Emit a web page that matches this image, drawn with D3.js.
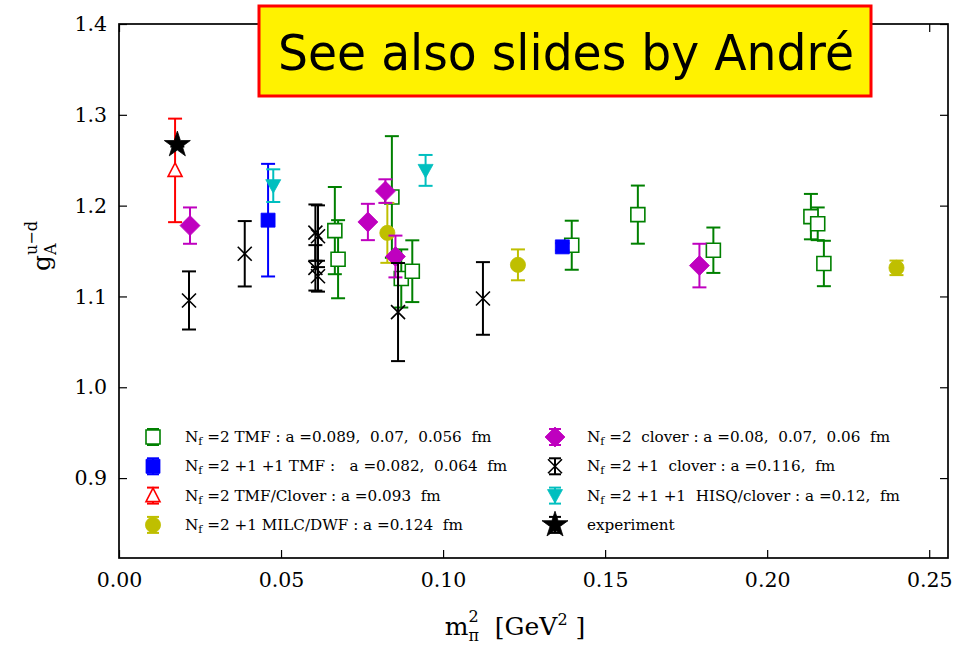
<!DOCTYPE html>
<html>
<head>
<meta charset="utf-8">
<script src="https://cdn.jsdelivr.net/npm/d3@7"></script>
<style>
body{margin:0;background:#fff;}
svg text{white-space:pre;}
</style>
</head>
<body>
<div id="chart"></div>
<script>
// data: x = m_pi^2 [GeV^2], y = g_A, e = error
var tmfX = [0.0666, 0.0676, 0.0842, 0.0871, 0.0905, 0.1397, 0.1601, 0.1834, 0.2135, 0.2156, 0.2175];
var tmfY = [1.1725, 1.141, 1.2095, 1.1198, 1.1278, 1.1564, 1.1901, 1.1509, 1.1879, 1.180, 1.1363];
var tmfE = [0.048, 0.043, 0.067, 0.032, 0.034, 0.027, 0.032, 0.025, 0.025, 0.018, 0.025];

var tmf211X = [0.0460, 0.1368];
var tmf211Y = [1.184, 1.1546];
var tmf211E = [0.062, 0.004];

var tmfCloverX = [0.0173];
var tmfCloverY = [1.2388];
var tmfCloverE = [0.057];

var milcX = [0.0828, 0.1231, 0.2399];
var milcY = [1.170, 1.1348, 1.1315];
var milcE = [0.033, 0.017, 0.008];

var clover2X = [0.0219, 0.0768, 0.0822, 0.0853, 0.1791];
var clover2Y = [1.178, 1.182, 1.216, 1.144, 1.134];
var clover2E = [0.020, 0.020, 0.013, 0.023, 0.024];

var clover21X = [0.0216, 0.0388, 0.0606, 0.0614, 0.0606, 0.0614, 0.0861, 0.1123];
var clover21Y = [1.0956, 1.147, 1.1703, 1.1663, 1.1315, 1.1223, 1.0828, 1.0978];
var clover21E = [0.032, 0.036, 0.031, 0.034, 0.025, 0.017, 0.054, 0.040];

var hisqX = [0.0476, 0.0946];
var hisqY = [1.222, 1.2388];
var hisqE = [0.018, 0.017];

var expX = [0.0180];
var expY = [1.2670];
var expE = [0.002];

var xTicks = [0, 0.05, 0.10, 0.15, 0.20, 0.25];
var yTicks = [0.9, 1.0, 1.1, 1.2, 1.3, 1.4];

var labels = [
  "N_f =2 TMF : a =0.089,  0.07,  0.056  fm",
  "N_f =2 +1 +1 TMF :   a =0.082,  0.064  fm",
  "N_f =2 TMF/Clover : a =0.093  fm",
  "N_f =2 +1 MILC/DWF : a =0.124  fm",
  "N_f =2  clover : a =0.08,  0.07,  0.06  fm",
  "N_f =2 +1  clover : a =0.116,  fm",
  "N_f =2 +1 +1  HISQ/clover : a =0.12,  fm",
  "experiment"
];

var W = 953, H = 647;
var margin = {left:119, right:5, top:24, bottom:89};
var serif = "DejaVu Serif";

var series = [
  {x:tmfX, y:tmfY, e:tmfE, color:"#008000", marker:"square", fill:"#fff"},
  {x:tmf211X, y:tmf211Y, e:tmf211E, color:"#0000ff", marker:"square", fill:"#0000ff"},
  {x:tmfCloverX, y:tmfCloverY, e:tmfCloverE, color:"#ff0000", marker:"tri", fill:"#fff"},
  {x:milcX, y:milcY, e:milcE, color:"#bfbf00", marker:"circle", fill:"#bfbf00"},
  {x:clover2X, y:clover2Y, e:clover2E, color:"#bf00bf", marker:"diamond", fill:"#bf00bf"},
  {x:clover21X, y:clover21Y, e:clover21E, color:"#000", marker:"x", fill:"none"},
  {x:hisqX, y:hisqY, e:hisqE, color:"#00bfbf", marker:"triDown", fill:"#00bfbf"},
  {x:expX, y:expY, e:expE, color:"#000", marker:"star", fill:"#000"}
];

var svg = d3.select("#chart").append("svg").attr("width", W).attr("height", H);

var x = d3.scaleLinear().domain([0, 0.2558]).range([margin.left, W - margin.right]);
var y = d3.scaleLinear().domain([0.812, 1.4]).range([H - margin.bottom, margin.top]);

var markerPath = function(type){
  switch(type){
    case "square": return "M-7,-7H7V7H-7Z";
    case "tri": return "M0,-7.5L7,6L-7,6Z";
    case "triDown": return "M0,7.5L7.5,-6L-7.5,-6Z";
    case "diamond": return "M0,-10L10,0L0,10L-10,0Z";
    case "x": return "M-7,-7L7,7M-7,7L7,-7";
    case "circle": return d3.symbol(d3.symbolCircle, 180)();
    case "star": return d3.symbol(d3.symbolStar, 210)();
  }
};

var drawMarker = function(g, s){
  g.append("path")
    .attr("d", markerPath(s.marker))
    .attr("fill", s.fill)
    .attr("stroke", s.color)
    .attr("stroke-width", s.marker == "x" ? 1.6 : (s.fill == "#fff" ? 1.6 : 0.8));
};

var plot = svg.append("g");
var x0 = margin.left, x1 = W - margin.right, y0 = H - margin.bottom, y1 = margin.top;
var axisG = svg.append("g");

// inward ticks on all four sides
var bottomAxis = d3.axisBottom(x).tickValues(xTicks).tickSizeInner(-8).tickSizeOuter(0).tickPadding(14).tickFormat(d3.format(".2f"));
var topAxis = d3.axisTop(x).tickValues(xTicks).tickSizeInner(-8).tickSizeOuter(0).tickFormat("");
var leftAxis = d3.axisLeft(y).tickValues(yTicks).tickSizeInner(-8).tickSizeOuter(0).tickPadding(12).tickFormat(d3.format(".1f"));
var rightAxis = d3.axisRight(y).tickValues(yTicks).tickSizeInner(-8).tickSizeOuter(0).tickFormat("");

axisG.append("g").attr("transform", "translate(0," + y0 + ")").call(bottomAxis);
axisG.append("g").attr("transform", "translate(0," + y1 + ")").call(topAxis);
axisG.append("g").attr("transform", "translate(" + x0 + ",0)").call(leftAxis);
axisG.append("g").attr("transform", "translate(" + x1 + ",0)").call(rightAxis);
axisG.selectAll(".domain").remove();
axisG.selectAll(".tick line").attr("stroke", "#000").attr("stroke-width", 1.2);
axisG.selectAll(".tick text").style("font-family", serif).style("font-size", "20.5px").attr("fill", "#000");
axisG.append("rect").attr("x", x0).attr("y", y1).attr("width", x1 - x0).attr("height", y0 - y1)
  .attr("fill", "none").attr("stroke", "#000").attr("stroke-width", 1.7);

// error bars then markers, series by series
series.forEach(function(s){
  var g = plot.append("g");
  s.x.forEach(function(xv, i){
    var cx = x(xv), top = y(s.y[i] + s.e[i]), bot = y(s.y[i] - s.e[i]);
    var eb = g.append("g").attr("stroke", s.color).attr("stroke-width", 2);
    eb.append("line").attr("x1", cx).attr("x2", cx).attr("y1", top).attr("y2", bot);
    eb.append("line").attr("x1", cx - 7).attr("x2", cx + 7).attr("y1", top).attr("y2", top);
    eb.append("line").attr("x1", cx - 7).attr("x2", cx + 7).attr("y1", bot).attr("y2", bot);
  });
  s.x.forEach(function(xv, i){
    var m = g.append("g").attr("transform", "translate(" + x(xv) + "," + y(s.y[i]) + ")");
    drawMarker(m, s);
  });
});

// one text element, tspans placed one after another; stacked ones share the x start
var rich = function(parent, parts, center, family){
  var t = parent.append("text").style("font-family", family || serif).attr("fill", "#000");
  var cursor = 0, prev = 0, spans = [];
  parts.forEach(function(p){
    var sx = p.stack ? prev : cursor;
    var ts = t.append("tspan").attr("x", sx).attr("y", p.dy || 0)
      .style("font-size", p.size + "px").text(p.t);
    var w = ts.node().getComputedTextLength();
    cursor = Math.max(cursor, sx + w);
    prev = sx;
    spans.push([ts, sx]);
  });
  if(center) spans.forEach(function(d){ d[0].attr("x", d[1] - cursor / 2); });
  return t;
};

// legend
var legend = svg.append("g");
series.forEach(function(s, i){
  var col = i < 4 ? 0 : 1, row = i % 4;
  var lx = col == 0 ? 153 : 555, ly = 437 + row * 29.3;
  var eg = legend.append("g").attr("stroke", s.color).attr("stroke-width", 2);
  eg.append("line").attr("x1", lx).attr("x2", lx).attr("y1", ly - 8).attr("y2", ly + 8);
  eg.append("line").attr("x1", lx - 6).attr("x2", lx + 6).attr("y1", ly - 8).attr("y2", ly - 8);
  eg.append("line").attr("x1", lx - 6).attr("x2", lx + 6).attr("y1", ly + 8).attr("y2", ly + 8);
  drawMarker(legend.append("g").attr("transform", "translate(" + lx + "," + ly + ")"), s);
  var lab = labels[i], parts;
  if(lab.indexOf("N_f") == 0){
    parts = [{t:"N", size:15.2}, {t:"f", size:11, dy:3}, {t:lab.slice(3), size:15.2}];
  } else {
    parts = [{t:lab, size:15.2}];
  }
  rich(legend, parts, false).attr("transform", "translate(" + (col == 0 ? 185 : 587) + "," + (ly + 5) + ")");
});

// axis labels
rich(svg, [{t:"m", size:25}, {t:"π", size:16, dy:6}, {t:"2", size:16, dy:-13, stack:true},
  {t:"  [GeV", size:25}, {t:"2", size:16, dy:-10}, {t:" ]", size:25}], true)
  .attr("transform", "translate(515,635)");

rich(svg, [{t:"g", size:25}, {t:"A", size:16, dy:6}, {t:"u−d", size:16, dy:-13, stack:true}], true)
  .attr("transform", "translate(50,246) rotate(-90)");

// title box
var box = svg.append("g");
box.append("rect").attr("x", 259).attr("y", 6).attr("width", 612).attr("height", 90)
  .attr("fill", "#fff200").attr("stroke", "#ff0000").attr("stroke-width", 3);
box.append("text").attr("x", 278).attr("y", 70).style("font-family", "DejaVu Sans")
  .style("font-size", "50px").attr("textLength", 576).attr("lengthAdjust", "spacingAndGlyphs")
  .attr("fill", "#000").text("See also slides by André");
</script>
</body>
</html>
